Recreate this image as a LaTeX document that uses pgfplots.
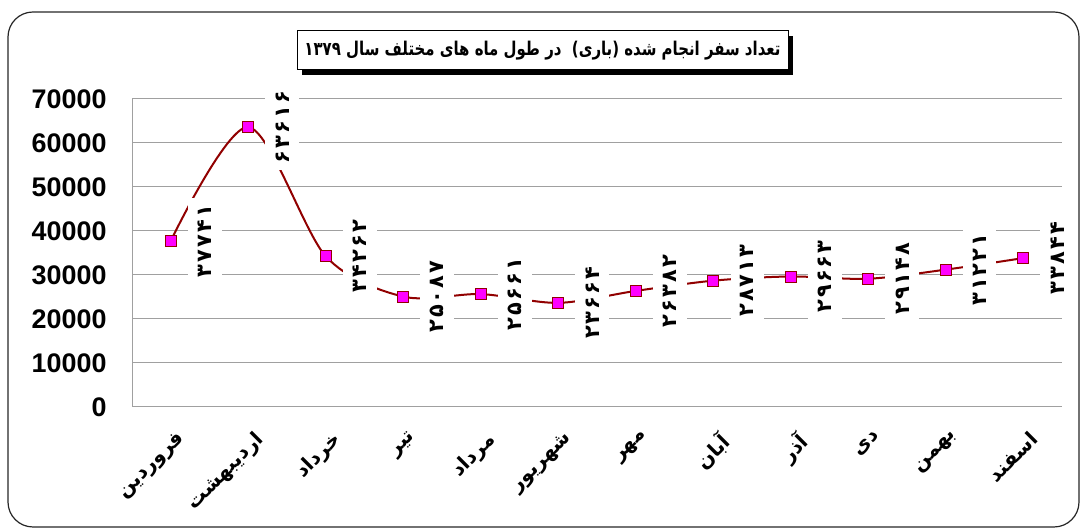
\documentclass[border=0pt]{standalone}
\usepackage{fontspec}
\usepackage{pgfplots}
\usepackage{pgfplotstable}
\pgfplotsset{compat=1.18}
\setmainfont{Liberation Sans}
\newfontfamily\arabicfont[Script=Arabic]{DejaVu Sans}
\newfontfamily\digitfont[LetterSpace=10]{DejaVu Sans}
\TeXXeTstate=1
\newcommand{\fa}[1]{{\arabicfont\bfseries\beginR #1\endR}}
% write a plain number with Persian digits
\def\fadigit#1{\ifcase#1 ۰\or ۱\or ۲\or ۳\or ۴\or ۵\or ۶\or ۷\or ۸\or ۹\fi}
\def\fadig#1{\ifx\relax#1\else\fadigit{#1}\expandafter\fadig\fi}

\definecolor{linered}{RGB}{145,0,0}
\definecolor{mk}{RGB}{255,0,255}
\definecolor{gridgray}{RGB}{160,160,160}

% trips per month, year 1379
\pgfplotstableread{
x y
0 37741
1 63616
2 34262
3 25087
4 25661
5 23664
6 26382
7 28713
8 29663
9 29148
10 31221
11 33844
}\tripdata

\begin{document}
\begin{tikzpicture}[x=1bp,y=1bp]
\useasboundingbox (0,0) rectangle (1081,530);
\draw[line width=1.2bp, rounded corners=25bp, black!85] (8,3) rectangle (1079,518);

% title box with shadow
\fill[black] (302,455) rectangle (793,494);
\draw[fill=white, line width=1bp] (297,460) rectangle (788,499);
\node at (542.5,479.5) {\fontsize{19}{19}\selectfont\resizebox{476bp}{\height}{\fa{تعداد سفر انجام شده (باری)\ \ در طول ماه های مختلف سال ۱۳۷۹}}};

\begin{axis}[
	at={(132bp,123bp)}, anchor=south west,
	scale only axis,
	width=930bp, height=308bp,
	xmin=-0.5, xmax=11.5,
	ymin=0, ymax=70000,
	xtick={0,...,11},
	xticklabels={\fa{فروردین},\fa{اردیبهشت},\fa{خرداد},\fa{تیر},\fa{مرداد},\fa{شهریور},\fa{مهر},\fa{آبان},\fa{آذر},\fa{دی},\fa{بهمن},\fa{اسفند}},
	ytick={0,10000,...,70000},
	scaled y ticks=false,
	/pgf/number format/1000 sep={},
	/pgf/number format/assume math mode=true,
	ymajorgrids,
	grid style={gridgray, line width=1bp},
	axis x line*=bottom, axis y line*=left,
	axis line style={gridgray, line width=1bp, -},
	major tick length=0pt,
	yticklabel style={font=\fontsize{27}{27}\selectfont\bfseries, xshift=-22bp},
	xticklabel style={font=\fontsize{20}{20}\selectfont, yshift=-18bp, xshift=5bp, rotate=45, anchor=north east},
	clip=false,
]
\addplot[linered, line width=2bp, smooth, tension=0.5, mark=square*, mark size=5.5bp,
	mark options={fill=mk, draw=linered, line width=0.8bp}]
	table[x=x, y=y] {\tripdata};
\addplot[draw=none, no marks, point meta=explicit symbolic,
	nodes near coords={\expandafter\fadig\pgfplotspointmeta\relax},
	every node near coord/.style={anchor=center, xshift=34bp, rotate=90, fill=white,
		inner xsep=7bp, inner ysep=10bp, text=black,
		font=\digitfont\bfseries\fontsize{21}{21}\selectfont}]
	table[x=x, y=y, meta=y] {\tripdata};
\end{axis}
\end{tikzpicture}
\end{document}
